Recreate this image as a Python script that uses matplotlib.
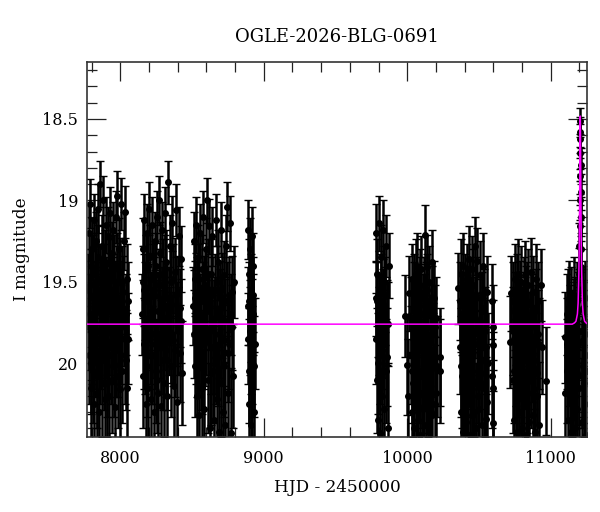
import matplotlib
matplotlib.use("Agg")
import matplotlib.pyplot as plt
from matplotlib.ticker import MultipleLocator, FuncFormatter
import numpy as np

# ---------------- data (HJD-2450000, I mag, error) ----------------
season1 = [
    (7776,19.55,.22),(7780,19.20,.17),(7783,19.95,.30),(7787,19.70,.25),(7790,19.02,.15),(7794,20.15,.34),(7797,19.40,.20),(7801,19.85,.28),(7804,19.30,.19),(7808,20.05,.32),
    (7811,19.60,.23),(7815,19.12,.16),(7818,20.25,.36),(7822,19.75,.26),(7825,19.45,.21),(7829,19.92,.29),(7832,19.25,.18),(7836,20.18,.35),(7839,19.65,.24),(7843,19.35,.20),
    (7846,19.05,.15),(7850,19.80,.27),(7853,20.30,.37),(7857,19.50,.22),(7860,18.90,.14),(7864,19.88,.28),(7867,19.58,.23),(7871,20.12,.33),(7874,19.28,.19),(7878,19.72,.25),
    (7881,19.00,.15),(7885,19.98,.31),(7888,19.48,.21),(7892,20.22,.35),(7895,19.38,.20),(7899,19.82,.27),(7902,19.15,.17),(7906,20.02,.31),(7909,19.62,.24),(7913,19.22,.18),
    (7916,19.90,.29),(7920,19.45,.21),(7923,20.20,.35),(7927,19.08,.16),(7930,19.68,.24),(7934,19.55,.22),(7937,19.95,.30),(7941,19.32,.19),(7944,20.10,.33),(7948,19.75,.26),
    (7951,19.18,.17),(7955,19.85,.28),(7958,19.42,.21),(7962,20.27,.36),(7965,19.60,.23),(7969,19.10,.16),(7972,19.92,.29),(7976,19.50,.22),(7979,18.97,.15),(7983,20.08,.32),
    (7986,19.66,.24),(7990,19.30,.19),(7993,19.88,.28),(7997,20.16,.34),(8000,19.44,.21),(8004,19.02,.16),(8008,19.78,.26),(8013,20.05,.32),(8018,19.56,.22),(8024,19.25,.18),
    (8030,19.95,.30),(8036,19.07,.16),(8041,19.70,.25),(8046,20.15,.33),(8050,19.48,.21),(8054,19.85,.28),
]
season2 = [
    (8152,19.70,.25),(8156,19.30,.19),(8160,20.08,.32),(8164,19.55,.22),(8168,19.12,.16),(8172,19.90,.29),(8176,20.25,.36),(8180,19.42,.21),(8184,19.78,.26),(8188,19.20,.18),
    (8192,20.15,.34),(8196,19.62,.23),(8200,19.05,.16),(8204,19.85,.28),(8208,19.35,.20),(8212,20.22,.35),(8216,19.68,.24),(8220,19.15,.17),(8224,19.95,.30),(8228,19.48,.21),
    (8232,20.30,.37),(8236,19.58,.23),(8240,19.25,.18),(8244,19.88,.28),(8248,20.05,.32),(8252,19.40,.20),(8256,19.10,.16),(8260,19.75,.26),(8264,20.18,.34),(8268,19.52,.22),
    (8272,19.00,.15),(8276,19.82,.27),(8280,19.32,.19),(8284,20.26,.36),(8288,19.65,.24),(8292,19.18,.17),(8296,19.98,.31),(8300,19.45,.21),(8304,20.12,.33),(8308,19.72,.25),
    (8312,19.08,.16),(8316,19.92,.29),(8320,19.38,.20),(8324,20.20,.35),(8328,19.60,.23),(8335,18.89,.13),(8340,19.80,.27),(8345,19.28,.19),(8350,20.02,.31),(8356,19.50,.22),
    (8362,19.14,.17),(8368,19.86,.28),(8374,20.14,.33),(8380,19.44,.21),(8386,19.06,.16),(8392,19.76,.26),(8398,20.24,.36),(8404,19.56,.22),(8410,19.22,.18),(8416,19.94,.30),
    (8422,19.36,.20),(8428,20.06,.32),
]
season3 = [
    (8510,19.65,.24),(8514,19.25,.18),(8518,20.02,.31),(8522,19.48,.21),(8526,19.85,.28),(8530,19.15,.17),(8534,20.20,.35),(8538,19.58,.23),(8542,19.35,.20),(8546,19.92,.29),
    (8550,20.32,.38),(8554,19.70,.25),(8558,19.20,.18),(8562,19.98,.31),(8566,19.42,.21),(8570,20.15,.34),(8574,19.62,.24),(8578,19.10,.16),(8582,19.88,.28),(8586,20.28,.37),
    (8590,19.52,.22),(8594,19.30,.19),(8598,19.80,.27),(8605,19.00,.14),(8610,20.10,.33),(8615,19.68,.24),(8620,19.16,.17),(8625,20.40,.40),(8630,19.90,.29),(8635,19.45,.21),
    (8640,19.22,.18),(8645,20.05,.32),(8650,19.75,.26),(8655,20.35,.39),(8660,19.55,.22),(8665,19.12,.16),(8670,19.95,.30),(8675,20.22,.35),(8680,19.38,.20),(8685,19.82,.27),
    (8690,20.42,.40),(8695,19.60,.23),(8700,19.18,.17),(8705,20.12,.33),(8710,19.72,.25),(8715,20.30,.38),(8720,19.46,.21),(8725,19.86,.28),(8730,20.38,.39),(8735,19.28,.19),
    (8742,19.04,.15),(8748,19.94,.30),(8754,20.18,.35),(8760,19.58,.23),(8766,19.14,.17),(8772,20.43,.40),(8778,19.78,.26),(8784,20.08,.32),(8790,19.50,.22),
]
season4 = [
    (8888,19.65,.24),(8891,19.18,.18),(8894,20.05,.32),(8897,19.45,.21),(8900,20.25,.36),(8903,19.80,.27),(8906,19.30,.19),(8909,20.38,.39),
    (8912,19.55,.22),(8915,19.95,.30),(8918,19.22,.18),(8921,20.15,.34),(8924,19.70,.25),(8928,19.40,.20),(8932,20.30,.37),(8936,19.88,.28),
]
season5 = [
    (9780,19.60,.23),(9784,19.20,.18),(9788,20.10,.33),(9792,19.45,.21),(9796,20.35,.39),(9800,19.80,.27),(9804,19.14,.17),(9808,19.95,.30),(9812,20.43,.40),(9816,19.35,.20),
    (9820,19.70,.25),(9824,20.20,.35),(9828,19.18,.18),(9832,19.88,.28),(9836,19.50,.22),(9840,20.28,.37),(9845,19.65,.24),(9850,19.28,.19),(9855,20.05,.32),(9860,19.75,.26),
    (9866,20.40,.40),(9872,19.40,.20),
]
season6 = [
    (9985,19.71,.25),(10001,20.01,.31),(10008,20.20,.35),(10015,19.57,.23),
    (10025,19.95,.30),(10030,19.48,.21),(10034,20.30,.37),(10038,19.75,.26),(10042,20.12,.33),(10046,19.55,.22),(10050,20.40,.40),(10054,19.85,.28),(10058,19.45,.21),(10062,20.22,.35),
    (10067,19.40,.20),(10071,19.90,.29),(10075,20.35,.39),(10079,19.65,.24),(10083,20.05,.32),(10087,19.52,.22),(10091,20.44,.40),(10095,19.80,.27),(10099,19.42,.20),(10103,20.18,.34),
    (10107,19.70,.25),(10111,20.28,.37),(10115,19.58,.23),(10119,19.98,.30),(10125,19.21,.18),(10129,20.38,.39),(10133,19.62,.24),(10137,19.41,.20),(10141,20.10,.33),(10145,19.88,.28),
    (10150,20.42,.40),(10155,19.50,.22),(10160,20.15,.34),(10165,19.78,.26),(10170,19.38,.20),(10175,20.32,.38),(10180,19.92,.29),(10186,19.60,.23),(10192,20.25,.36),(10198,19.72,.25),
    (10204,20.02,.31),(10229,19.96,.30),(10231,20.05,.32),
]
season7 = [
    (10357,19.54,.22),
    (10368,19.90,.29),(10372,19.45,.21),(10376,20.30,.37),(10380,19.70,.25),(10384,20.08,.32),(10388,19.40,.20),(10392,20.42,.40),(10396,19.82,.27),(10400,19.55,.22),(10404,20.18,.34),
    (10408,19.65,.24),(10412,20.36,.39),(10416,19.48,.21),(10420,19.95,.30),(10424,20.25,.36),(10428,19.36,.20),(10432,19.78,.26),(10436,20.44,.40),(10440,19.60,.23),(10444,20.02,.31),
    (10448,19.42,.20),(10452,20.32,.38),(10456,19.85,.28),(10460,19.52,.22),(10465,20.12,.33),(10469,19.28,.18),(10474,19.72,.25),(10478,20.40,.40),(10482,19.58,.23),(10487,19.37,.20),
    (10492,20.05,.32),(10497,19.88,.28),(10502,20.28,.37),(10507,19.46,.21),(10512,19.98,.30),(10518,20.38,.39),(10524,19.68,.24),(10530,19.40,.20),(10536,20.15,.34),(10542,19.80,.27),
    (10548,20.34,.38),(10554,19.56,.22),(10560,20.00,.31),
    (10590,19.62,.23),(10593,20.08,.32),(10597,19.78,.26),(10599,19.89,.28),(10601,20.15,.34),(10596,20.37,.39),
]
season8 = [
    (10713,19.87,.28),(10723,19.57,.23),
    (10735,20.10,.33),(10739,19.62,.24),(10743,20.35,.39),(10747,19.85,.28),(10751,19.48,.21),(10755,20.22,.35),(10759,19.75,.26),(10763,20.42,.40),(10767,19.55,.22),(10771,20.02,.31),
    (10775,19.45,.21),(10779,20.30,.37),(10783,19.92,.29),(10787,19.68,.24),(10791,20.15,.34),(10795,19.50,.22),(10799,20.40,.40),(10803,19.80,.27),(10807,20.05,.32),(10811,19.58,.23),
    (10815,20.26,.36),(10819,19.72,.25),(10823,19.46,.21),(10827,20.44,.40),(10831,19.95,.30),(10835,19.62,.24),(10840,20.18,.34),(10845,19.52,.22),(10850,20.36,.39),(10855,19.84,.28),
    (10860,19.44,.21),(10865,20.08,.32),(10870,19.70,.25),(10875,20.32,.38),(10880,19.56,.22),(10885,19.98,.30),(10890,20.42,.40),(10895,19.66,.24),(10900,19.48,.21),(10906,20.20,.35),
    (10912,19.82,.27),(10918,20.38,.39),(10932,19.52,.22),(10940,19.90,.29),(10967,20.11,.33),
]
season9 = [
    (11100,19.84,.28),(11101,20.18,.35),
    (11112,20.05,.32),(11116,19.70,.25),(11120,20.35,.39),(11124,19.90,.29),(11128,19.60,.23),(11132,20.22,.35),(11136,19.78,.26),(11140,20.42,.40),(11144,19.65,.24),(11148,20.12,.33),
    (11152,19.85,.28),(11156,20.30,.37),(11160,19.58,.23),(11164,19.98,.30),(11168,20.40,.40),(11172,19.72,.25),(11176,20.08,.32),(11180,19.62,.24),(11184,20.28,.37),(11188,19.88,.28),
    (11192,19.68,.24),(11196,20.15,.34),(11216,19.80,.27),(11220,20.36,.39),(11224,19.66,.24),(11228,20.02,.31),(11232,19.74,.25),(11236,20.25,.36),(11240,19.60,.23),(11244,19.95,.30),
    (11248,20.44,.40),(11252,19.76,.26),
]
# extra points filling the dense core of each season
core = [
    (7779,19.78,.26),(7789,19.52,.22),(7799,20.00,.31),(7809,19.42,.21),(7819,19.88,.28),(7828,19.62,.24),(7838,20.08,.32),(7848,19.48,.21),(7858,19.95,.30),(7868,19.70,.25),
    (7877,19.36,.20),(7887,19.86,.28),(7897,19.58,.23),(7907,20.12,.33),(7917,19.66,.24),(7926,19.44,.21),(7936,19.80,.27),(7946,19.55,.22),(7956,20.02,.31),(7966,19.74,.26),
    (7975,19.40,.20),(7985,19.92,.29),(7995,19.60,.23),(8005,19.85,.28),(8015,19.50,.22),(8027,19.76,.26),(8040,19.98,.31),(8052,19.62,.24),
    (8155,19.50,.22),(8165,19.88,.28),(8175,19.62,.24),(8185,20.02,.31),(8195,19.40,.20),(8205,19.72,.25),(8215,19.95,.30),(8225,19.55,.22),(8235,19.82,.27),(8245,19.46,.21),
    (8255,20.10,.33),(8265,19.68,.24),(8275,19.52,.22),(8285,19.90,.29),(8295,19.60,.23),(8305,19.78,.26),(8315,19.42,.21),(8325,19.98,.31),(8338,19.65,.24),(8352,19.84,.28),
    (8365,19.48,.21),(8378,19.92,.29),(8390,19.58,.23),(8402,19.80,.27),(8414,19.66,.24),(8426,19.74,.26),
    (8512,19.82,.27),(8522,19.60,.23),(8532,19.92,.29),(8542,19.70,.25),(8552,19.48,.21),(8562,19.78,.26),(8572,20.00,.31),(8582,19.56,.22),(8592,19.86,.28),(8602,19.64,.24),
    (8612,19.45,.21),(8622,19.80,.27),(8632,20.06,.32),(8642,19.58,.23),(8652,19.90,.29),(8662,19.72,.25),(8672,19.50,.22),(8682,19.96,.30),(8692,19.66,.24),(8702,19.84,.28),
    (8712,19.54,.22),(8722,20.02,.31),(8732,19.74,.26),(8745,19.62,.24),(8758,19.88,.28),(8770,19.70,.25),(8782,19.56,.22),
    (8890,19.85,.28),(8899,19.62,.24),(8908,19.90,.29),(8917,19.74,.26),(8926,19.58,.23),(8934,20.02,.31),
    (9782,19.85,.28),(9790,19.62,.24),(9798,20.00,.31),(9806,19.72,.25),(9814,19.55,.22),(9822,19.92,.29),(9830,19.66,.24),(9838,19.82,.27),(9848,19.58,.23),(9858,19.96,.30),(9868,19.76,.26),
    (10028,19.72,.25),(10036,20.05,.32),(10044,19.62,.24),(10052,19.98,.31),(10060,19.76,.26),(10068,20.20,.35),(10076,19.66,.24),(10084,19.92,.29),(10092,19.58,.23),(10100,20.08,.32),
    (10108,19.82,.27),(10116,20.26,.36),(10124,19.70,.25),(10132,19.95,.30),(10140,19.55,.22),(10148,20.12,.33),(10156,19.86,.28),(10164,20.30,.37),(10172,19.64,.24),(10182,20.00,.31),
    (10190,19.78,.26),(10200,20.18,.34),
    (10370,19.62,.24),(10378,20.02,.31),(10386,19.76,.26),(10394,20.15,.34),(10402,19.68,.24),(10410,19.98,.30),(10418,20.22,.35),(10426,19.64,.24),(10434,19.92,.29),(10442,19.72,.25),
    (10450,20.10,.33),(10458,19.80,.27),(10466,20.30,.37),(10476,19.60,.23),(10485,19.88,.28),(10494,20.20,.35),(10504,19.74,.26),(10514,20.06,.32),(10522,19.84,.28),(10532,19.66,.24),
    (10540,20.12,.33),(10550,19.90,.29),(10558,20.24,.36),
    (10737,19.80,.27),(10745,20.05,.32),(10753,19.68,.24),(10761,19.96,.30),(10769,19.74,.26),(10777,20.14,.33),(10785,19.60,.23),(10793,19.90,.29),(10801,20.22,.35),(10809,19.76,.26),
    (10817,19.98,.30),(10825,19.64,.24),(10833,20.10,.33),(10842,19.84,.28),(10852,20.02,.31),(10862,19.70,.25),(10872,19.94,.30),(10882,20.16,.34),(10892,19.78,.26),(10902,20.06,.32),
    (10910,19.62,.24),(10916,19.88,.28),
    (11114,19.88,.28),(11122,19.66,.24),(11130,19.96,.30),(11138,20.15,.34),(11146,19.82,.27),(11154,20.04,.31),(11162,19.74,.26),(11170,20.20,.35),(11178,19.86,.28),(11186,20.06,.32),
    (11194,19.80,.27),(11218,20.08,.32),(11226,19.86,.28),(11234,20.12,.33),(11242,19.82,.27),(11250,20.05,.32),
]
peak = [
    (11198,19.45,.16),(11200,19.28,.14),(11201,19.16,.13),(11202,19.00,.12),(11203,18.85,.11),(11204,18.71,.10),(11205,18.58,.09),
    (11206,18.51,.08),(11207,18.62,.09),(11208,18.78,.10),(11209,18.95,.11),(11210,19.10,.12),(11212,19.30,.14),(11214,19.41,.16),
]

# model light curve
model_t = [7770, 11150, 11166, 11176, 11186, 11191, 11196, 11199, 11201, 11203, 11204, 11205, 11206,
           11207, 11208, 11209, 11211, 11213, 11216, 11221, 11226, 11236, 11246, 11260]
model_m = [19.76, 19.76, 19.752, 19.742, 19.698, 19.631, 19.45, 19.27, 19.063, 18.791, 18.646, 18.528, 18.482,
           18.528, 18.646, 18.791, 19.063, 19.27, 19.45, 19.631, 19.698, 19.742, 19.752, 19.76]

title = "OGLE-2026-BLG-0691"
xlabel = "HJD - 2450000"
ylabel = "I magnitude"

# ---------------- figure ----------------
plt.rcParams['font.family'] = ['DejaVu Serif']

fig = plt.figure(figsize=(6.0, 5.12), dpi=100)
ax = fig.add_axes([87.3/600, 1-437/512, 500/600, 375/512])

alldata = season1 + season2 + season3 + season4 + season5 + season6 + season7 + season8 + season9 + core + peak
t = np.array([d[0] for d in alldata], float)
m = np.array([d[1] for d in alldata], float)
e = np.array([d[2] for d in alldata], float)

ax.errorbar(t, m, yerr=e, fmt='o', color='black', ms=4.0, mec='black',
            ecolor='black', elinewidth=1.8, capsize=3.0, capthick=1.0, zorder=2)
ax.plot(model_t, model_m, color='#ff00ff', lw=1.1, zorder=3)

ax.set_xlim(7770, 11255)
ax.set_ylim(20.453, 18.15)

ax.xaxis.set_major_locator(MultipleLocator(1000))
ax.xaxis.set_minor_locator(MultipleLocator(200))
ax.yaxis.set_major_locator(MultipleLocator(0.5))
ax.yaxis.set_minor_locator(MultipleLocator(0.1))
ax.yaxis.set_major_formatter(FuncFormatter(lambda v, p: '%g' % v))

ax.tick_params(which='both', direction='in', top=True, right=True, width=0.9, color='#222222')
ax.tick_params(which='major', length=13.5)
ax.tick_params(which='minor', length=7)
ax.tick_params(axis='x', which='major', labelsize=11.5, pad=9.3)
ax.tick_params(axis='y', which='major', labelsize=11.5, pad=6.5)
for s in ax.spines.values():
    s.set_linewidth(1.2)
    s.set_color('#333333')

fig.text(337/600, 1-41.7/512, title, ha='center', va='baseline', fontsize=13)
fig.text(337.5/600, 1-491.5/512, xlabel, ha='center', va='baseline', fontsize=12.2)
fig.text(21/600, 1-249.5/512, ylabel, ha='center', va='center', rotation=90, fontsize=12.2)

fig.savefig('out.png', dpi=100)
